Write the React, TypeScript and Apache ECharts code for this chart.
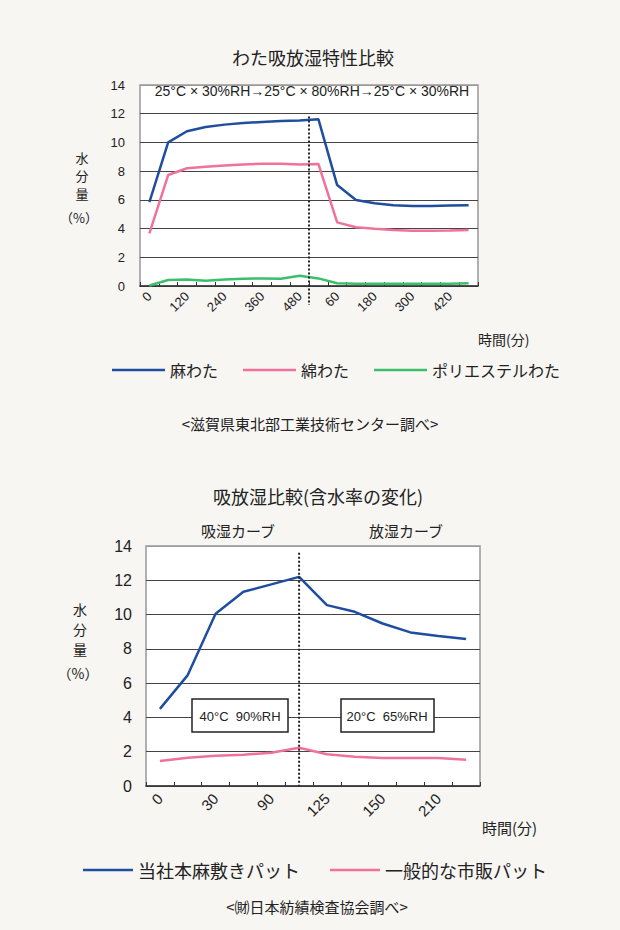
import React, { useEffect, useRef } from "react";
import * as echarts from "echarts";

// ---- data: top chart (わた吸放湿特性比較) ----
const topCategories = ["0", "60", "120", "180", "240", "300", "360", "420", "480", "0", "60", "120", "180", "240", "300", "360", "420", "480"];
const topAsa = [5.85, 10.0, 10.78, 11.07, 11.24, 11.35, 11.42, 11.49, 11.53, 11.62, 7.03, 5.99, 5.76, 5.62, 5.57, 5.57, 5.6, 5.62];
const topMen = [3.67, 7.73, 8.2, 8.31, 8.4, 8.47, 8.52, 8.52, 8.47, 8.5, 4.43, 4.09, 3.99, 3.9, 3.85, 3.85, 3.87, 3.9];
const topPoly = [0.03, 0.42, 0.46, 0.37, 0.46, 0.51, 0.53, 0.51, 0.72, 0.53, 0.19, 0.15, 0.15, 0.15, 0.15, 0.15, 0.16, 0.2];
const topSeriesNames = ["麻わた", "綿わた", "ポリエステルわた"];

// ---- data: bottom chart (吸放湿比較) ----
const bottomCategories = ["0", "15", "30", "60", "90", "120", "125", "135", "150", "180", "210", "240"];
const bottomOurs = [4.5, 6.47, 10.05, 11.33, 11.76, 12.2, 10.55, 10.16, 9.48, 8.96, 8.75, 8.57];
const bottomMarket = [1.46, 1.65, 1.77, 1.83, 1.94, 2.23, 1.85, 1.71, 1.63, 1.63, 1.63, 1.53];
const bottomSeriesNames = ["当社本麻敷きパット", "一般的な市販パット"];

const yMin = 0;
const yMax = 14;
const yStep = 2;

const BLUE = "#1f4e9f";
const PINK = "#f0729a";
const GREEN = "#3cbf6a";
const JP = "'Noto Sans CJK JP', sans-serif";
const NUM = "'Liberation Sans', 'Noto Sans CJK JP', sans-serif";

const gridLineColors = ["#444", "#444", "#444", "#444", "#444", "#444", "#444", "#999"];

export default function App() {
  const ref = useRef<HTMLDivElement>(null);

  useEffect(() => {
    if (!ref.current) return;
    const chart = echarts.init(ref.current, undefined, { renderer: "svg" });

    const txt = (x: number, y: number, text: string, size: number, extra: any = {}) => ({
      type: "text",
      x,
      y,
      z: 20,
      style: {
        text,
        fontSize: size,
        fontFamily: JP,
        fill: "#222",
        align: "center",
        verticalAlign: "middle",
        ...extra,
      },
    });

    const option: any = {
      animation: false,
      backgroundColor: "#f8f6f3",
      textStyle: { fontFamily: NUM },
      grid: [
        { left: 140, top: 85, width: 338, height: 201, show: true, backgroundColor: "#fff", borderColor: "#999", borderWidth: 1.5 },
        { left: 146, top: 546, width: 334, height: 240, show: true, backgroundColor: "#fff", borderColor: "#999", borderWidth: 1.5 },
      ],
      xAxis: [
        {
          gridIndex: 0,
          type: "category",
          data: topCategories,
          boundaryGap: true,
          axisLine: { lineStyle: { color: "#333", width: 1.5 } },
          axisTick: { show: true, inside: true, length: 4, interval: 0, lineStyle: { color: "#333" } },
          axisLabel: { interval: 1, rotate: 45, fontSize: 13, color: "#222", margin: 8, fontFamily: NUM },
        },
        {
          gridIndex: 1,
          type: "category",
          data: bottomCategories,
          boundaryGap: true,
          axisLine: { lineStyle: { color: "#333", width: 1.5 } },
          axisTick: { show: true, inside: true, length: 4, interval: 0, lineStyle: { color: "#333" } },
          axisLabel: { interval: 1, rotate: 45, fontSize: 15, color: "#222", margin: 10, fontFamily: NUM },
        },
      ],
      yAxis: [
        {
          gridIndex: 0,
          type: "value",
          min: yMin,
          max: yMax,
          interval: yStep,
          axisLine: { show: false },
          axisTick: { show: false },
          axisLabel: { fontSize: 13, color: "#222", margin: 15, fontFamily: NUM },
          splitLine: { lineStyle: { color: gridLineColors, width: 1 } },
        },
        {
          gridIndex: 1,
          type: "value",
          min: yMin,
          max: yMax,
          interval: yStep,
          axisLine: { show: false },
          axisTick: { show: false },
          axisLabel: { fontSize: 16, color: "#222", margin: 14, fontFamily: NUM },
          splitLine: { lineStyle: { color: gridLineColors, width: 1 } },
        },
      ],
      legend: [
        {
          data: topSeriesNames,
          left: 112,
          top: 362,
          padding: 0,
          icon: "rect",
          itemWidth: 53,
          itemHeight: 2.5,
          itemGap: 25,
          selectedMode: false,
          textStyle: { fontSize: 16, fontFamily: JP, color: "#222" },
        },
        {
          data: bottomSeriesNames,
          left: 83,
          top: 861,
          padding: 0,
          icon: "rect",
          itemWidth: 50,
          itemHeight: 2.5,
          itemGap: 30,
          selectedMode: false,
          textStyle: { fontSize: 18, fontFamily: JP, color: "#222" },
        },
      ],
      series: [
        { name: topSeriesNames[0], type: "line", xAxisIndex: 0, yAxisIndex: 0, data: topAsa, symbol: "none", color: BLUE, lineStyle: { width: 2.5, color: BLUE } },
        { name: topSeriesNames[1], type: "line", xAxisIndex: 0, yAxisIndex: 0, data: topMen, symbol: "none", color: PINK, lineStyle: { width: 2.5, color: PINK } },
        { name: topSeriesNames[2], type: "line", xAxisIndex: 0, yAxisIndex: 0, data: topPoly, symbol: "none", color: GREEN, lineStyle: { width: 2.5, color: GREEN } },
        { name: bottomSeriesNames[0], type: "line", xAxisIndex: 1, yAxisIndex: 1, data: bottomOurs, symbol: "none", color: BLUE, lineStyle: { width: 2.5, color: BLUE } },
        { name: bottomSeriesNames[1], type: "line", xAxisIndex: 1, yAxisIndex: 1, data: bottomMarket, symbol: "none", color: PINK, lineStyle: { width: 2.5, color: PINK } },
      ],
      graphic: [
        txt(313, 57, "わた吸放湿特性比較", 18),
        txt(312, 91, "25°C × 30%RH→25°C × 80%RH→25°C × 30%RH", 14, { fontFamily: NUM }),
        txt(82, 157, "水", 13),
        txt(82, 175, "分", 13),
        txt(82, 193, "量", 13),
        txt(79, 217, "（%）", 13),
        txt(478, 339, "時間(分)", 14, { align: "left" }),
        txt(310, 423, "<滋賀県東北部工業技術センター調べ>", 15),
        txt(318, 496, "吸放湿比較(含水率の変化)", 18),
        txt(238, 530, "吸湿カーブ", 15),
        txt(406, 530, "放湿カーブ", 15),
        txt(80, 609, "水", 14),
        txt(80, 629, "分", 14),
        txt(80, 649, "量", 14),
        txt(78, 673, "（%）", 14),
        txt(482, 827, "時間(分)", 15, { align: "left" }),
        txt(317, 906, "<㈶日本紡績検査協会調べ>", 15),
        { type: "rect", z: 15, shape: { x: 192, y: 699, width: 96, height: 33 }, style: { fill: "#fff", stroke: "#222", lineWidth: 1.5 } },
        { type: "rect", z: 15, shape: { x: 341, y: 699, width: 93, height: 33 }, style: { fill: "#fff", stroke: "#222", lineWidth: 1.5 } },
        txt(240, 716, "40°C  90%RH", 13, { fontFamily: NUM }),
        txt(387, 716, "20°C  65%RH", 13, { fontFamily: NUM }),
      ],
    };

    chart.setOption(option);

    // dotted separators, positioned through the axes' own scales
    const t8 = chart.convertToPixel({ xAxisIndex: 0, yAxisIndex: 0 } as any, [8, 11.8]) as number[];
    const t9 = chart.convertToPixel({ xAxisIndex: 0, yAxisIndex: 0 } as any, [9, 0]) as number[];
    const tx = (t8[0] + t9[0]) / 2;
    const b5top = chart.convertToPixel({ xAxisIndex: 1, yAxisIndex: 1 } as any, [5, 13.6]) as number[];
    const b5bot = chart.convertToPixel({ xAxisIndex: 1, yAxisIndex: 1 } as any, [5, 0]) as number[];

    chart.setOption({
      graphic: [
        {
          id: "dotTop",
          type: "line",
          z: 12,
          shape: { x1: tx, y1: t8[1], x2: tx, y2: t9[1] + 19 },
          style: { stroke: "#222", lineWidth: 2, lineDash: [2, 2] },
        },
        {
          id: "dotBottom",
          type: "line",
          z: 12,
          shape: { x1: b5top[0], y1: b5top[1], x2: b5bot[0], y2: b5bot[1] },
          style: { stroke: "#222", lineWidth: 2, lineDash: [2, 2] },
        },
      ],
    });

    return () => chart.dispose();
  }, []);

  return (
    <div
      ref={ref}
      style={{ position: "absolute", left: 0, top: 0, width: 620, height: 930 }}
    />
  );
}
